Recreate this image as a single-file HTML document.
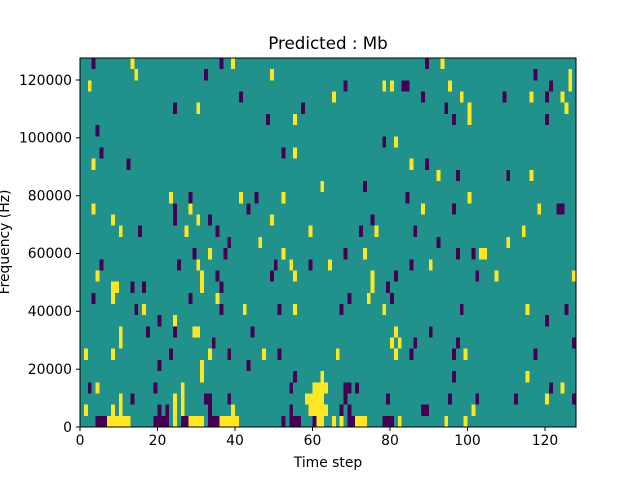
<!DOCTYPE html>
<html><head><meta charset="utf-8"><style>html,body{margin:0;padding:0;background:#fff}svg{display:block}</style></head>
<body>
<svg width="640" height="480" viewBox="0 0 640 480" xmlns="http://www.w3.org/2000/svg" font-family="DejaVu Sans, Liberation Sans, sans-serif">
<rect width="640" height="480" fill="#fff"/>
<svg x="80" y="58" width="496" height="369" viewBox="0 0 128 33" preserveAspectRatio="none" shape-rendering="crispEdges">
<rect width="128" height="33" fill="#21918c"/>
<g fill="#440154">
<rect x="3" y="0" width="1" height="1"/><rect x="36" y="0" width="1" height="1"/><rect x="89" y="0" width="1" height="1"/>
<rect x="32" y="1" width="1" height="1"/><rect x="117" y="1" width="1" height="1"/>
<rect x="68" y="2" width="1" height="1"/><rect x="83" y="2" width="2" height="1"/><rect x="121" y="2" width="1" height="1"/>
<rect x="41" y="3" width="1" height="1"/><rect x="88" y="3" width="1" height="1"/><rect x="109" y="3" width="1" height="1"/><rect x="120" y="3" width="1" height="1"/>
<rect x="24" y="4" width="1" height="1"/><rect x="57" y="4" width="1" height="1"/><rect x="94" y="4" width="1" height="1"/>
<rect x="48" y="5" width="1" height="1"/><rect x="96" y="5" width="1" height="1"/><rect x="120" y="5" width="1" height="1"/>
<rect x="4" y="6" width="1" height="1"/>
<rect x="78" y="7" width="1" height="1"/>
<rect x="5" y="8" width="1" height="1"/><rect x="52" y="8" width="1" height="1"/>
<rect x="12" y="9" width="1" height="1"/><rect x="89" y="9" width="1" height="1"/>
<rect x="97" y="10" width="1" height="1"/><rect x="110" y="10" width="1" height="1"/>
<rect x="73" y="11" width="1" height="1"/>
<rect x="28" y="12" width="1" height="1"/><rect x="45" y="12" width="1" height="1"/><rect x="84" y="12" width="1" height="1"/>
<rect x="24" y="13" width="1" height="1"/><rect x="43" y="13" width="1" height="1"/><rect x="96" y="13" width="1" height="1"/><rect x="123" y="13" width="2" height="1"/>
<rect x="24" y="14" width="1" height="1"/><rect x="33" y="14" width="1" height="1"/><rect x="75" y="14" width="1" height="1"/>
<rect x="15" y="15" width="1" height="1"/><rect x="35" y="15" width="1" height="1"/><rect x="72" y="15" width="1" height="1"/><rect x="86" y="15" width="1" height="1"/>
<rect x="38" y="16" width="1" height="1"/><rect x="92" y="16" width="1" height="1"/>
<rect x="29" y="17" width="1" height="1"/><rect x="37" y="17" width="1" height="1"/><rect x="68" y="17" width="1" height="1"/><rect x="97" y="17" width="1" height="1"/><rect x="101" y="17" width="1" height="1"/>
<rect x="5" y="18" width="1" height="1"/><rect x="25" y="18" width="1" height="1"/><rect x="50" y="18" width="1" height="1"/><rect x="59" y="18" width="1" height="1"/><rect x="85" y="18" width="1" height="1"/>
<rect x="35" y="19" width="1" height="1"/><rect x="49" y="19" width="1" height="1"/><rect x="81" y="19" width="1" height="1"/><rect x="102" y="19" width="1" height="1"/>
<rect x="13" y="20" width="1" height="1"/><rect x="16" y="20" width="1" height="1"/><rect x="36" y="20" width="1" height="1"/><rect x="79" y="20" width="1" height="1"/>
<rect x="3" y="21" width="1" height="1"/><rect x="28" y="21" width="1" height="1"/><rect x="69" y="21" width="1" height="1"/><rect x="80" y="21" width="1" height="1"/>
<rect x="14" y="22" width="1" height="1"/><rect x="36" y="22" width="1" height="1"/><rect x="51" y="22" width="1" height="1"/><rect x="67" y="22" width="1" height="1"/><rect x="98" y="22" width="1" height="1"/><rect x="125" y="22" width="1" height="1"/>
<rect x="20" y="23" width="1" height="1"/><rect x="120" y="23" width="1" height="1"/>
<rect x="17" y="24" width="1" height="1"/><rect x="24" y="24" width="1" height="1"/><rect x="44" y="24" width="1" height="1"/><rect x="90" y="24" width="1" height="1"/>
<rect x="34" y="25" width="1" height="1"/><rect x="86" y="25" width="1" height="1"/><rect x="97" y="25" width="1" height="1"/><rect x="127" y="25" width="1" height="1"/>
<rect x="23" y="26" width="1" height="1"/><rect x="38" y="26" width="1" height="1"/><rect x="51" y="26" width="1" height="1"/><rect x="85" y="26" width="1" height="1"/><rect x="96" y="26" width="1" height="1"/><rect x="117" y="26" width="1" height="1"/>
<rect x="20" y="27" width="1" height="1"/><rect x="43" y="27" width="1" height="1"/>
<rect x="55" y="28" width="1" height="1"/><rect x="96" y="28" width="1" height="1"/>
<rect x="2" y="29" width="1" height="1"/><rect x="19" y="29" width="1" height="1"/><rect x="54" y="29" width="1" height="1"/><rect x="68" y="29" width="2" height="1"/><rect x="71" y="29" width="1" height="1"/><rect x="121" y="29" width="1" height="1"/>
<rect x="13" y="30" width="1" height="1"/><rect x="32" y="30" width="2" height="1"/><rect x="38" y="30" width="1" height="1"/><rect x="68" y="30" width="1" height="1"/><rect x="79" y="30" width="1" height="1"/><rect x="95" y="30" width="1" height="1"/><rect x="102" y="30" width="1" height="1"/><rect x="112" y="30" width="1" height="1"/><rect x="127" y="30" width="1" height="1"/>
<rect x="20" y="31" width="1" height="1"/><rect x="22" y="31" width="1" height="1"/><rect x="33" y="31" width="1" height="1"/><rect x="54" y="31" width="1" height="1"/><rect x="67" y="31" width="1" height="1"/><rect x="69" y="31" width="1" height="1"/><rect x="88" y="31" width="2" height="1"/>
<rect x="4" y="32" width="3" height="1"/><rect x="19" y="32" width="4" height="1"/><rect x="26" y="32" width="2" height="1"/><rect x="33" y="32" width="3" height="1"/><rect x="52" y="32" width="1" height="1"/><rect x="54" y="32" width="3" height="1"/><rect x="60" y="32" width="1" height="1"/><rect x="69" y="32" width="2" height="1"/><rect x="78" y="32" width="3" height="1"/>
</g>
<g fill="#fde725">
<rect x="13" y="0" width="1" height="1"/><rect x="39" y="0" width="1" height="1"/><rect x="93" y="0" width="1" height="1"/>
<rect x="14" y="1" width="1" height="1"/><rect x="49" y="1" width="1" height="1"/><rect x="126" y="1" width="1" height="2"/>
<rect x="2" y="2" width="1" height="1"/><rect x="78" y="2" width="1" height="1"/><rect x="80" y="2" width="1" height="1"/><rect x="95" y="2" width="1" height="1"/>
<rect x="65" y="3" width="1" height="1"/><rect x="98" y="3" width="1" height="1"/><rect x="116" y="3" width="1" height="1"/><rect x="124" y="3" width="1" height="1"/>
<rect x="30" y="4" width="1" height="1"/><rect x="100" y="4" width="1" height="2"/><rect x="125" y="4" width="1" height="1"/>
<rect x="55" y="5" width="1" height="1"/>
<rect x="81" y="7" width="1" height="1"/>
<rect x="55" y="8" width="1" height="1"/>
<rect x="3" y="9" width="1" height="1"/><rect x="85" y="9" width="1" height="1"/>
<rect x="92" y="10" width="1" height="1"/><rect x="116" y="10" width="1" height="1"/>
<rect x="62" y="11" width="1" height="1"/>
<rect x="23" y="12" width="1" height="1"/><rect x="41" y="12" width="1" height="1"/><rect x="52" y="12" width="1" height="1"/><rect x="100" y="12" width="1" height="1"/>
<rect x="3" y="13" width="1" height="1"/><rect x="28" y="13" width="1" height="1"/><rect x="88" y="13" width="1" height="1"/><rect x="118" y="13" width="1" height="1"/>
<rect x="8" y="14" width="1" height="1"/><rect x="30" y="14" width="1" height="1"/><rect x="49" y="14" width="1" height="1"/>
<rect x="10" y="15" width="1" height="1"/><rect x="27" y="15" width="1" height="1"/><rect x="59" y="15" width="1" height="1"/><rect x="76" y="15" width="1" height="1"/><rect x="114" y="15" width="1" height="1"/>
<rect x="46" y="16" width="1" height="1"/><rect x="110" y="16" width="1" height="1"/>
<rect x="33" y="17" width="1" height="1"/><rect x="52" y="17" width="1" height="1"/><rect x="73" y="17" width="1" height="1"/><rect x="103" y="17" width="2" height="1"/>
<rect x="30" y="18" width="1" height="1"/><rect x="54" y="18" width="1" height="1"/><rect x="64" y="18" width="1" height="1"/><rect x="90" y="18" width="1" height="1"/>
<rect x="4" y="19" width="1" height="1"/><rect x="31" y="19" width="1" height="2"/><rect x="55" y="19" width="1" height="1"/><rect x="75" y="19" width="1" height="2"/><rect x="107" y="19" width="1" height="1"/><rect x="127" y="19" width="1" height="1"/>
<rect x="8" y="20" width="2" height="1"/>
<rect x="8" y="21" width="1" height="1"/><rect x="35" y="21" width="1" height="1"/><rect x="74" y="21" width="1" height="1"/>
<rect x="16" y="22" width="1" height="1"/><rect x="42" y="22" width="1" height="1"/><rect x="55" y="22" width="1" height="1"/><rect x="78" y="22" width="1" height="1"/><rect x="115" y="22" width="1" height="1"/>
<rect x="24" y="23" width="1" height="1"/>
<rect x="10" y="24" width="1" height="2"/><rect x="29" y="24" width="2" height="1"/><rect x="81" y="24" width="1" height="1"/>
<rect x="80" y="25" width="1" height="1"/><rect x="82" y="25" width="1" height="1"/>
<rect x="1" y="26" width="1" height="1"/><rect x="8" y="26" width="1" height="1"/><rect x="33" y="26" width="1" height="1"/><rect x="47" y="26" width="1" height="1"/><rect x="66" y="26" width="1" height="1"/><rect x="81" y="26" width="1" height="1"/><rect x="99" y="26" width="1" height="1"/>
<rect x="31" y="27" width="1" height="2"/>
<rect x="62" y="28" width="1" height="1"/><rect x="115" y="28" width="1" height="1"/>
<rect x="4" y="29" width="1" height="1"/><rect x="26" y="29" width="1" height="1"/><rect x="60" y="29" width="4" height="1"/><rect x="124" y="29" width="1" height="1"/>
<rect x="10" y="30" width="1" height="1"/><rect x="24" y="30" width="1" height="1"/><rect x="26" y="30" width="1" height="1"/><rect x="58" y="30" width="5" height="1"/><rect x="120" y="30" width="1" height="1"/>
<rect x="1" y="31" width="1" height="1"/><rect x="8" y="31" width="1" height="1"/><rect x="10" y="31" width="1" height="1"/><rect x="24" y="31" width="1" height="1"/><rect x="26" y="31" width="1" height="1"/><rect x="39" y="31" width="1" height="1"/><rect x="59" y="31" width="5" height="1"/><rect x="101" y="31" width="1" height="1"/>
<rect x="7" y="32" width="6" height="1"/><rect x="24" y="32" width="1" height="1"/><rect x="28" y="32" width="4" height="1"/><rect x="36" y="32" width="5" height="1"/><rect x="61" y="32" width="2" height="1"/><rect x="65" y="32" width="1" height="1"/><rect x="67" y="32" width="1" height="1"/><rect x="71" y="32" width="3" height="1"/><rect x="82" y="32" width="1" height="1"/><rect x="94" y="32" width="1" height="1"/><rect x="99" y="32" width="1" height="1"/>
</g>
</svg>
<rect x="80" y="58" width="496" height="369" fill="none" stroke="#000" stroke-width="1"/>
<g stroke="#000" stroke-width="1">
<line x1="80" y1="427" x2="80" y2="431"/><line x1="157.5" y1="427" x2="157.5" y2="431"/><line x1="235" y1="427" x2="235" y2="431"/><line x1="312.5" y1="427" x2="312.5" y2="431"/><line x1="390" y1="427" x2="390" y2="431"/><line x1="467.5" y1="427" x2="467.5" y2="431"/><line x1="545" y1="427" x2="545" y2="431"/>
<line x1="76" y1="427" x2="80" y2="427"/><line x1="76" y1="369.2" x2="80" y2="369.2"/><line x1="76" y1="311.3" x2="80" y2="311.3"/><line x1="76" y1="253.5" x2="80" y2="253.5"/><line x1="76" y1="195.7" x2="80" y2="195.7"/><line x1="76" y1="137.8" x2="80" y2="137.8"/><line x1="76" y1="80" x2="80" y2="80"/>
</g>
<g font-size="13.9" fill="#000" text-anchor="middle">
<text x="80" y="445">0</text><text x="157.5" y="445">20</text><text x="235" y="445">40</text><text x="312.5" y="445">60</text><text x="390" y="445">80</text><text x="467.5" y="445">100</text><text x="545" y="445">120</text>
</g>
<g font-size="13.9" fill="#000" text-anchor="end">
<text x="72" y="432">0</text><text x="72" y="374">20000</text><text x="72" y="316">40000</text><text x="72" y="258">60000</text><text x="72" y="200.5">80000</text><text x="72" y="142.5">100000</text><text x="72" y="85">120000</text>
</g>
<text x="328" y="467" font-size="13.9" text-anchor="middle">Time step</text>
<text transform="translate(9,242) rotate(-90)" font-size="13.9" text-anchor="middle">Frequency (Hz)</text>
<text x="328" y="49" font-size="16.7" text-anchor="middle">Predicted : Mb</text>
</svg>
</body></html>
